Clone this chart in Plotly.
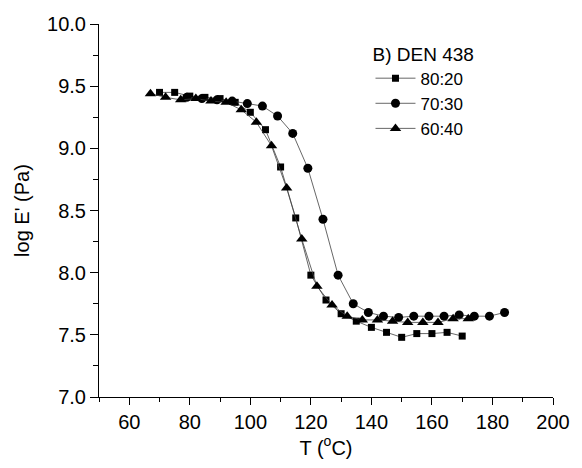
import plotly.graph_objects as go

# 80:20 (squares)
t_80 = [70, 75, 80, 85, 90, 95, 100, 105, 110, 115, 120, 125, 130, 135, 140, 145, 150, 155, 160, 165, 170]
e_80 = [9.45, 9.45, 9.42, 9.41, 9.40, 9.37, 9.29, 9.15, 8.85, 8.44, 7.98, 7.78, 7.67, 7.61, 7.56, 7.52, 7.48, 7.51, 7.51, 7.52, 7.49]

# 70:30 (circles)
t_70 = [79, 84, 89, 94, 99, 104, 109, 114, 119, 124, 129, 134, 139, 144, 149, 154, 159, 164, 169, 174, 179, 184]
e_70 = [9.41, 9.40, 9.39, 9.38, 9.36, 9.34, 9.26, 9.12, 8.84, 8.43, 7.98, 7.75, 7.68, 7.65, 7.64, 7.65, 7.65, 7.65, 7.66, 7.65, 7.65, 7.68]

# 60:40 (triangles)
t_60 = [67, 72, 77, 82, 87, 92, 97, 102, 107, 112, 117, 122, 127, 132, 137, 142, 147, 152, 157, 162, 167, 172]
e_60 = [9.44, 9.41, 9.39, 9.40, 9.38, 9.37, 9.31, 9.21, 9.02, 8.68, 8.27, 7.89, 7.74, 7.65, 7.62, 7.62, 7.61, 7.60, 7.60, 7.60, 7.63, 7.63]

series = [
    ("80:20", t_80, e_80, "square", 7),
    ("70:30", t_70, e_70, "circle", 9),
    ("60:40", t_60, e_60, "triangle-up", 10),
]

FONT = "Liberation Sans, Arial, sans-serif"

fig = go.Figure()
for name, x, y, sym, sz in series:
    fig.add_trace(go.Scatter(
        x=x, y=y, name=name, mode="lines+markers",
        line=dict(color="#404040", width=0.8),
        marker=dict(symbol=sym, size=sz, color="black", line=dict(width=0)),
    ))

fig.update_layout(
    width=582, height=468,
    margin=dict(l=99, r=20, t=24, b=71),
    paper_bgcolor="white", plot_bgcolor="white",
    font=dict(family=FONT, size=20, color="black"),
    showlegend=True,
    legend=dict(
        title=dict(text="B) DEN 438", font=dict(size=19, family=FONT)),
        x=0.598, y=0.968, xanchor="left", yanchor="top",
        bgcolor="rgba(0,0,0,0)", font=dict(size=17, family=FONT),
        tracegroupgap=0, itemwidth=40,
    ),
    xaxis=dict(
        range=[50, 200], tickvals=[60, 80, 100, 120, 140, 160, 180, 200],
        showgrid=False, zeroline=False, showline=True, linecolor="black", linewidth=1,
        ticks="outside", ticklen=7, tickcolor="black", tickwidth=1,
        minor=dict(dtick=10, tick0=50, ticks="outside", ticklen=4, tickcolor="black", showgrid=False),
        title=dict(text="T (<sup>o</sup>C)", font=dict(size=20, family=FONT), standoff=8),
        tickfont=dict(size=20, family=FONT),
    ),
    yaxis=dict(
        range=[7.0, 10.0], dtick=0.5, tickformat=".1f",
        showgrid=False, zeroline=False, showline=True, linecolor="black", linewidth=1,
        ticks="outside", ticklen=8, tickcolor="black", tickwidth=1,
        minor=dict(dtick=0.25, ticks="outside", ticklen=5, tickcolor="black", showgrid=False),
        title=dict(text="log E' (Pa)", font=dict(size=20, family=FONT), standoff=12),
        tickfont=dict(size=20, family=FONT),
    ),
)

fig.write_html("out.html")
